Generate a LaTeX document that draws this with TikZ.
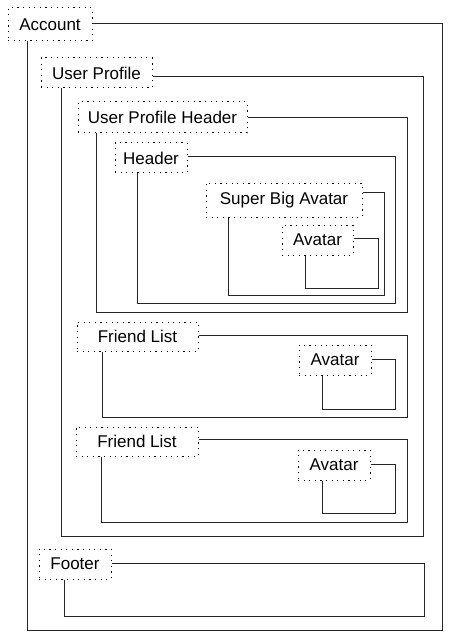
\documentclass[tikz,border=0pt]{standalone}
\usepackage{fontspec}
\setmainfont{Liberation Sans}
\usepackage{xcolor}
\usetikzlibrary{positioning}

\begin{document}
\begin{tikzpicture}[x=1pt, y=-1pt,
    lbl/.style={rectangle, draw, line width=1pt, dash pattern=on 1.2pt off 4.4pt, inner sep=0pt, minimum height=30pt, font=\fontsize{17}{20}\selectfont},
    wire/.style={draw=black!85, line width=0.9pt}]
    \useasboundingbox (0,0) rectangle (450,639);

    \node (account) [lbl, minimum width=84pt, minimum height=33pt] at (50,24.5) {Account};
    \node (profile) [lbl, minimum width=111pt] at (96.5,73) {User Profile};
    \node (profileheader) [lbl, minimum width=169pt, minimum height=31pt] at (162.5,117.5) {User Profile Header};
    \node (header) [lbl, minimum width=72pt] at (151,158) {Header};
    \node (bigavatar) [lbl, minimum width=156pt, minimum height=34pt] at (284,200) {Super Big Avatar};
    \node (avatar) [lbl, minimum width=71pt] at (317.5,240) {Avatar};
    \node (friends) [lbl, minimum width=121pt, minimum height=29pt] at (137.5,336.5) {Friend List};
    \node (friendavatar) [lbl, minimum width=72pt] at (335,360) {Avatar};
    \node (friendsb) [lbl, minimum width=122pt, minimum height=29pt] at (137,441.5) {Friend List};
    \node (friendavatarb) [lbl, minimum width=72pt] at (334,465) {Avatar};
    \node (footer) [lbl, minimum width=72pt] at (75,564) {Footer};

    % frame of each part: right side, bottom, left side
    \foreach \n/\dy/\r/\b/\l in {account/1.5/442/630/27, profile/-3/423/536/61,
        profileheader/0.5/407/312/96, header/2/395/303/137, bigavatar/8/384/295/228,
        avatar/2/378/288/305, friends/1.5/407/417/102, friendavatar/1/395/409/322,
        friendsb/2.5/407/522/101, friendavatarb/1/395/513/322, footer/1/424/616/64}
        \draw[wire] ([yshift=\dy pt]\n.east) -| (\r,\b) -- (\l,\b) -- (\l,0 |- \n.south);
\end{tikzpicture}
\end{document}
